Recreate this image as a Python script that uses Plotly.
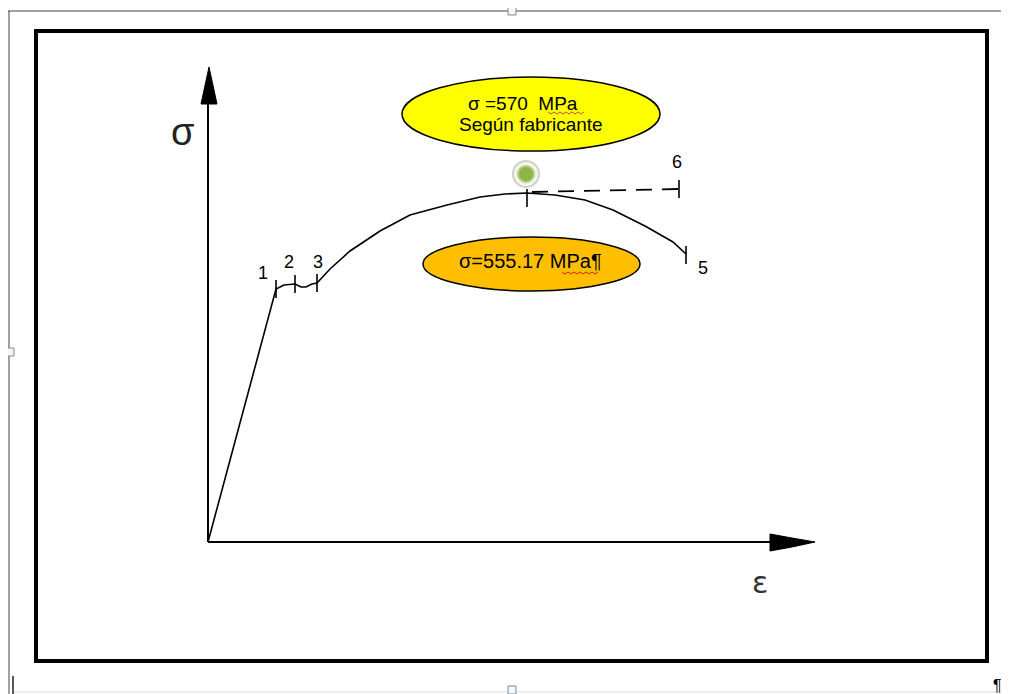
import plotly.graph_objects as go

# diagram units: origin at the axis crossing, 1 unit ~ 1 px
eps = [0, 68, 76, 87, 93, 98, 104, 109, 122, 142, 172, 202, 239, 272,
       297, 319, 347, 377, 405, 437, 465, 478]
sigma = [0, 253, 257, 258, 255, 255, 258, 259, 273, 291, 311, 327, 337, 345,
         348, 349, 347, 342, 332, 316, 300, 288]

# dashed line to point 6 (manufacturer value)
eps_dash = [324, 471]
sigma_dash = [350, 353]

# short marks at the numbered points
tick_eps = [68, 87, 109, 319, 478, 471]
tick_sigma = [253, 258, 259, 344, 287, 353]

point_labels = ["1", "2", "3", "5", "6"]
label_eps = [55, 81, 110, 495, 469]
label_sigma = [269, 280, 280, 274, 380]

dot_eps = [318]
dot_sigma = [368]

FONT = "Arial, Liberation Sans, sans-serif"


def box(x0, y0, x1, y1):
    # pixel box -> diagram units
    return dict(x0=x0 - 208, x1=x1 - 208, y0=542 - y0, y1=542 - y1)


fig = go.Figure()

fig.add_trace(go.Scatter(x=eps, y=sigma, mode="lines",
                         line=dict(color="black", width=1.6)))
fig.add_trace(go.Scatter(x=eps_dash, y=sigma_dash, mode="lines",
                         line=dict(color="black", width=1.8, dash="16px,10px")))
fig.add_trace(go.Scatter(x=tick_eps, y=tick_sigma, mode="markers",
                         marker=dict(symbol="line-ns", size=13,
                                     line=dict(color="black", width=1.6))))
fig.add_trace(go.Scatter(x=dot_eps, y=dot_sigma, mode="markers",
                         marker=dict(size=26, color="#f4f4ee",
                                     line=dict(color="#cfd2c6", width=2))))
fig.add_trace(go.Scatter(x=dot_eps, y=dot_sigma, mode="markers",
                         marker=dict(size=16, color="#8db648",
                                     line=dict(color="#b3cf7c", width=2))))

shapes = []
# outer thin frame
shapes.append(dict(type="line", **box(8, 11, 1009, 11), line=dict(color="#444", width=1)))
shapes.append(dict(type="line", **box(9, 11, 9, 694), line=dict(color="#444", width=1)))
shapes.append(dict(type="line", **box(13, 676, 13, 694), line=dict(color="#222", width=1.5)))
shapes.append(dict(type="line", **box(14, 692, 1009, 692), line=dict(color="#ddd", width=1)))
for hx, hy in [(512, 11), (512, 690), (10, 352)]:
    shapes.append(dict(type="rect", **box(hx - 4, hy - 4, hx + 4, hy + 4),
                       line=dict(color="#7f8c99", width=1), fillcolor="#f2f6fa"))
# inner thick frame
shapes.append(dict(type="rect", **box(36, 31, 987, 661),
                   line=dict(color="black", width=4)))
# axes
shapes.append(dict(type="line", **box(208, 542, 208, 95), line=dict(color="black", width=2)))
shapes.append(dict(type="line", **box(208, 542, 790, 542), line=dict(color="black", width=2.2)))
shapes.append(dict(type="path", path="M 1,475 L -7,438 L 9,438 Z",
                   fillcolor="black", line=dict(color="black", width=1)))
shapes.append(dict(type="path", path="M 562,8 L 584,4 L 607,0 L 584,-5 L 562,-9 Z",
                   fillcolor="black", line=dict(color="black", width=1)))
# ellipses
shapes.append(dict(type="circle", **box(402, 77, 660, 151), layer="below",
                   fillcolor="#ffff00", line=dict(color="black", width=1.5)))
shapes.append(dict(type="circle", **box(423, 237, 640, 291), layer="below",
                   fillcolor="#ffbf00", line=dict(color="black", width=1.5)))
# spell-check squiggles
shapes.append(dict(type="path",
                   path="M 340,430 L 343,428 L 346,430 L 349,428 L 352,430 L 355,428 L 358,430 L 361,428 L 364,430 L 367,428 L 370,430 L 373,428 L 376,430",
                   line=dict(color="#c0504d", width=1)))
shapes.append(dict(type="path",
                   path="M 354,270 L 357,268 L 360,270 L 363,268 L 366,270 L 369,268 L 372,270 L 375,268 L 378,270 L 381,268 L 384,270 L 387,268 L 390,270",
                   line=dict(color="#d42020", width=1)))

annotations = [
    dict(x=315, y=439, text="σ =570  MPa", font=dict(size=19, color="black", family=FONT)),
    dict(x=323, y=418, text="Según fabricante", font=dict(size=19, color="black", family=FONT)),
    dict(x=322, y=281, text="σ=555.17 MPa¶", font=dict(size=20, color="black", family=FONT)),
    dict(x=-26, y=410, text="σ", font=dict(size=38, color="#222", family=FONT)),
    dict(x=552, y=-40, text="ε", font=dict(size=30, color="#333", family="DejaVu Sans")),
    dict(x=789, y=-143, text="¶", font=dict(size=16, color="black", family=FONT)),
]
for t, lx, ly in zip(point_labels, label_eps, label_sigma):
    annotations.append(dict(x=lx, y=ly, text=t,
                            font=dict(size=18, color="black", family=FONT)))
for a in annotations:
    a.update(xref="x", yref="y", showarrow=False)

# the page body adds an 8 px margin, so the figure is 8 px smaller
fig.update_layout(
    width=1001, height=686,
    margin=dict(l=0, r=0, t=0, b=0),
    paper_bgcolor="white", plot_bgcolor="white",
    showlegend=False,
    xaxis=dict(range=[-200, 801], visible=False, fixedrange=True),
    yaxis=dict(range=[-152, 534], visible=False, fixedrange=True),
    shapes=shapes,
    annotations=annotations,
)

fig.write_html("out.html", config={"displayModeBar": False})
